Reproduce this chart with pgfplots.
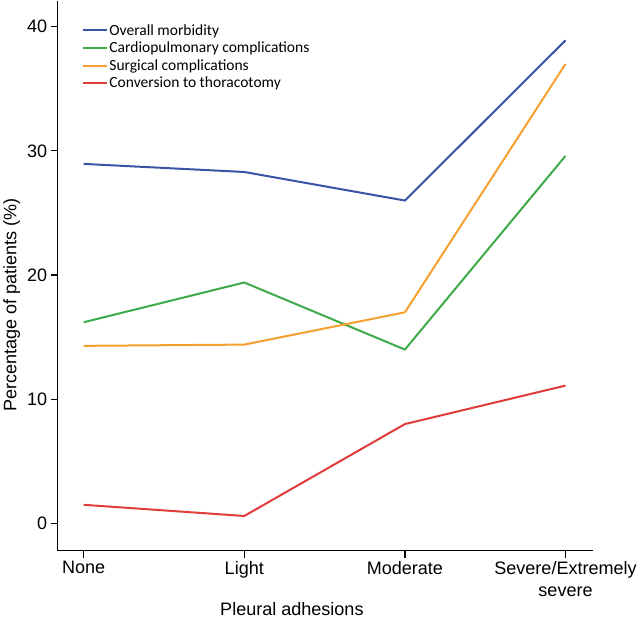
\documentclass[border=0pt]{standalone}
\usepackage{pgfplots}
\pgfplotsset{compat=1.18}
\usepackage{fontspec}
\setmainfont{Liberation Sans}
\newfontfamily\legfont{Carlito}
\definecolor{cblue}{RGB}{58,84,165}
\definecolor{cgreen}{RGB}{62,170,74}
\definecolor{corange}{RGB}{245,160,47}
\definecolor{cred}{RGB}{224,60,58}
\begin{document}
\begin{tikzpicture}
\begin{axis}[
  scale only axis,
  width=534pt, height=549pt,
  xmin=-0.162, xmax=3.168,
  ymin=-2.18, ymax=42.1,
  axis x line*=bottom, axis y line*=left,
  axis line style={line width=1.2pt, black, -},
  tick align=outside,
  major tick length=7pt,
  tick style={line width=1.2pt, black},
  xtick={0,1,2,3},
  xticklabels={None,Light,Moderate,{Severe/Extremely\\severe}},
  x tick label style={align=center, font=\fontsize{18}{22}\selectfont},
  ytick={0,10,20,30,40},
  y tick label style={font=\fontsize{18}{22}\selectfont},
  /pgf/number format/assume math mode=true,
  xlabel={Pleural adhesions},
  ylabel={Percentage of patients (\%)},
  label style={font=\fontsize{18}{22}\selectfont},
  xlabel style={at={(rel axis cs:0.438,0)}, anchor=center, yshift=-58pt},
  ylabel style={at={(ticklabel cs:0.446)}},
  legend style={draw=none, fill=none, at={(rel axis cs:0.045,0.96)}, anchor=north west,
    font=\legfont\fontsize{15.5}{17}\selectfont, row sep=2.3pt, inner sep=0pt,
    nodes={inner sep=1.5pt}},
  legend cell align=left,
  legend image code/.code={\draw[#1, line width=2pt] (0pt,0pt) -- (24pt,0pt);},
  every axis plot/.append style={line width=2pt},
]
\addplot[cblue] coordinates {(0,28.95) (1,28.3) (2,26.0) (3,38.9)};
\addlegendentry{Overall morbidity}
\addplot[cgreen] coordinates {(0,16.2) (1,19.4) (2,14.0) (3,29.6)};
\addlegendentry{Cardiopulmonary complications}
\addplot[corange] coordinates {(0,14.3) (1,14.4) (2,17.0) (3,37.0)};
\addlegendentry{Surgical complications}
\addplot[cred] coordinates {(0,1.5) (1,0.6) (2,8.0) (3,11.1)};
\addlegendentry{Conversion to thoracotomy}
\end{axis}
\end{tikzpicture}
\end{document}
